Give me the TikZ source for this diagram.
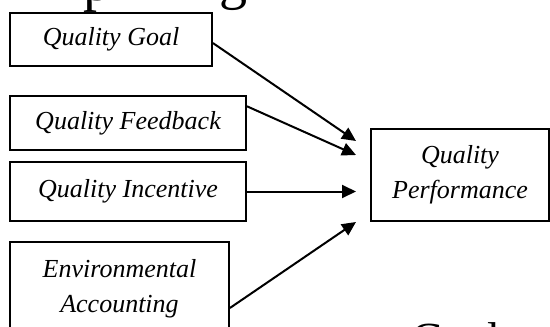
\documentclass[tikz,border=0pt]{standalone}
\usepackage{fontspec}
\setmainfont{Liberation Serif}
\usetikzlibrary{positioning,arrows.meta}

\begin{document}
\begin{tikzpicture}[
  x=1pt, y=-1pt,
  font=\fontsize{26}{35}\selectfont\itshape,
  var/.style={draw, line width=1.9pt, align=center, inner sep=0pt},
  arr/.style={-{Triangle[length=14pt,width=13pt]}, line width=2pt},
  page/.style={font=\fontsize{46}{46}\selectfont\upshape, inner sep=0pt}
]
\useasboundingbox (0,0) rectangle (550,327);
\clip (0,0) rectangle (550,327);
% text of the page above and below the figure
\node[page, anchor=base west, font=\fontsize{56}{56}\selectfont\upshape] (above1) at (83,0) {p};
\node[page, anchor=base west, font=\fontsize{56}{56}\selectfont\upshape] (above2) at (219,-2) {g};
\node[page, anchor=north west] (below) at (411,322) {Goal};
% the four drivers
\node[var, minimum width=202pt, minimum height=53pt] (goal) at (111,39.5) {Quality Goal};
\node[var, minimum width=236pt, minimum height=54pt] (feedback) at (128,123) {Quality Feedback};
\node[var, minimum width=236pt, minimum height=59pt] (incentive) at (128,191.5) {Quality Incentive};
\node[var, minimum width=219pt, minimum height=93pt] (env) at (119.5,288.5) {Environmental\\Accounting};
% outcome
\node[var, minimum width=178pt, minimum height=92pt] (perf) at (460,175) {Quality\\Performance};
\coordinate (tip1) at (356,141);
\coordinate (tip2) at (356,155);
\coordinate (tip3) at (356,191.5);
\coordinate (tip4) at (356,222);
\draw[arr] (goal.-2.5) -- (tip1);
\draw[arr] (feedback.8.7) -- (tip2);
\draw[arr] (incentive.east) -- (tip3);
\draw[arr] (env.-10) -- (tip4);
\end{tikzpicture}
\end{document}
